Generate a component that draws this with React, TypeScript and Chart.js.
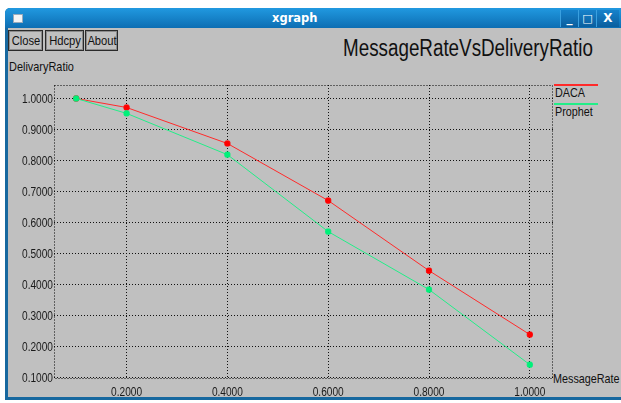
import React, { useEffect, useRef } from "react";
import { Chart, registerables } from "chart.js";

Chart.register(...registerables);

const messageRate = [0.1, 0.2, 0.4, 0.6, 0.8, 1.0];
const dacaRatio = [1.0, 0.971, 0.855, 0.671, 0.445, 0.239];
const prophetRatio = [1.0, 0.952, 0.819, 0.571, 0.384, 0.142];
const seriesNames = ["DACA", "Prophet"];
const seriesColors = ["#ff2a2a", "#22ee88"];
const pointColors = ["#ff0000", "#00f07a"];
const xTickValues = [0.2, 0.4, 0.6, 0.8, 1.0];
const yTickValues = [0.1, 0.2, 0.3, 0.4, 0.5, 0.6, 0.7, 0.8, 0.9, 1.0];
const chartTitle = "MessageRateVsDeliveryRatio";
const xAxisTitle = "MessageRate";
const yAxisTitle = "DelivaryRatio";
const windowTitle = "xgraph";
const buttonLabels = ["Close", "Hdcpy", "About"];

const FONT = "'Liberation Sans', Arial, sans-serif";
const NARROW = 0.83;

const framePlugin = {
  id: "frame",
  beforeDatasetsDraw(chart: any) {
    const { ctx, chartArea } = chart;
    ctx.save();
    ctx.strokeStyle = "#000";
    ctx.lineWidth = 1;
    ctx.setLineDash([1, 2]);
    const l = Math.round(chartArea.left) + 0.5;
    const t = Math.round(chartArea.top) + 0.5;
    const r = Math.round(chartArea.right) - 0.5;
    const b = Math.round(chartArea.bottom) - 0.5;
    ctx.strokeRect(l, t, r - l, b - t);
    ctx.restore();
  },
};

// Draws the scales' own tick labels in a condensed style (xgraph uses a narrow font)
const narrowTicksPlugin = {
  id: "narrowTicks",
  afterDraw(chart: any) {
    const { ctx, chartArea } = chart;
    ctx.save();
    ctx.fillStyle = "#1a1a1a";
    ctx.font = "12px " + FONT;
    const xs = chart.scales.x;
    ctx.textAlign = "center";
    ctx.textBaseline = "middle";
    xs.ticks.forEach((t: any) => {
      const px = xs.getPixelForValue(t.value);
      const label = t.label ?? Number(t.value).toFixed(4);
      ctx.save();
      ctx.translate(px, chartArea.bottom + 13.5);
      ctx.scale(0.845, 1);
      ctx.fillText(String(label), 0, 0);
      ctx.restore();
    });
    const ys = chart.scales.y;
    ctx.textAlign = "right";
    ys.ticks.forEach((t: any) => {
      const py = ys.getPixelForValue(t.value);
      const label = t.label ?? Number(t.value).toFixed(4);
      ctx.save();
      ctx.translate(chartArea.left - 1, py + 0.8);
      ctx.scale(0.845, 1);
      ctx.fillText(String(label), 0, 0);
      ctx.restore();
    });
    ctx.restore();
  },
};

export default function App() {
  const canvasRef = useRef<HTMLCanvasElement | null>(null);

  useEffect(() => {
    const canvas = canvasRef.current;
    if (!canvas) return;
    const seriesValues = [dacaRatio, prophetRatio];
    const chart = new Chart(canvas, {
      type: "scatter",
      data: {
        datasets: seriesValues.map((vals, i) => ({
          label: seriesNames[i],
          data: messageRate.map((x, j) => ({ x, y: vals[j] })),
          showLine: true,
          borderColor: seriesColors[i],
          backgroundColor: pointColors[i],
          pointBackgroundColor: pointColors[i],
          pointBorderColor: pointColors[i],
          pointStyle: "rectRounded",
          pointRadius: 3,
          borderWidth: 1,
          tension: 0,
          order: seriesNames.length - i,
        })),
      },
      plugins: [framePlugin, narrowTicksPlugin],
      options: {
        animation: false,
        responsive: false,
        events: [],
        layout: { padding: { left: 0, top: 85, right: 68, bottom: 0 } },
        plugins: {
          legend: { display: false },
          title: { display: false },
          tooltip: { enabled: false },
        },
        scales: {
          x: {
            type: "linear",
            min: 0.056,
            max: 1.046,
            afterBuildTicks: (scale: any) => {
              scale.ticks = xTickValues.map((v) => ({ value: v }));
            },
            afterFit: (scale: any) => {
              scale.height = 24;
            },
            grid: { color: "#111", drawTicks: false, lineWidth: 1 },
            border: { display: false, dash: [1, 2] },
            ticks: {
              display: false,
              autoSkip: false,
              callback: (v: any) => Number(v).toFixed(4),
            },
          },
          y: {
            type: "linear",
            min: 0.0958,
            max: 1.0435,
            afterBuildTicks: (scale: any) => {
              scale.ticks = yTickValues.map((v) => ({ value: v }));
            },
            afterFit: (scale: any) => {
              scale.width = 54;
            },
            grid: { color: "#111", drawTicks: false, lineWidth: 1 },
            border: { display: false, dash: [1, 2] },
            ticks: {
              display: false,
              autoSkip: false,
              callback: (v: any) => Number(v).toFixed(4),
            },
          },
        },
      },
    } as any);
    return () => chart.destroy();
  }, []);

  const abs = (s: React.CSSProperties): React.CSSProperties => ({ position: "absolute", ...s });
  const narrow = (s: React.CSSProperties): React.CSSProperties => ({
    position: "absolute",
    whiteSpace: "nowrap",
    transform: `scaleX(${NARROW})`,
    transformOrigin: "0 0",
    color: "#111",
    ...s,
  });

  return (
    <div
      style={{
        position: "fixed",
        left: 0,
        top: 0,
        width: 621,
        height: 403,
        background: "#ffffff",
        overflow: "hidden",
        fontFamily: FONT,
      }}
    >
      {/* window frame */}
      <div style={abs({ left: 5, top: 8, width: 630, height: 392, background: "#17689f", borderTopLeftRadius: 5 })} />
      <div
        style={abs({
          left: 5,
          top: 8,
          width: 630,
          height: 20,
          background: "linear-gradient(#2199e0, #0d6eb3)",
          borderTopLeftRadius: 5,
        })}
      />
      <div style={abs({ left: 13, top: 14, width: 8, height: 7, background: "#f4f4f4", border: "1px solid #9ab" })} />
      <div
        style={abs({
          left: 272,
          top: 8,
          height: 20,
          lineHeight: "20px",
          color: "#fff",
          fontFamily: "'DejaVu Sans', sans-serif",
          fontWeight: "bold",
          fontSize: 11.5,
          whiteSpace: "nowrap",
        })}
      >
        {windowTitle}
      </div>
      {["_", "\u25A1", "X"].map((g, i) => (
        <div
          key={i}
          style={abs({
            left: [560, 578, 596][i],
            top: 10,
            width: [17, 17, 22][i],
            height: 17,
            background: "linear-gradient(#1682cb, #0a5e9e)",
            borderLeft: "1px solid #3aa0e0",
            color: "#fff",
            fontFamily: "'DejaVu Sans', sans-serif",
            fontWeight: "bold",
            fontSize: i === 1 ? 11 : 12,
            lineHeight: "17px",
            textAlign: "center",
          })}
        >
          {g}
        </div>
      ))}
      {/* body */}
      <div style={abs({ left: 8, top: 28, width: 630, height: 369, background: "#c0c0c0" })} />
      {buttonLabels.map((b, i) => (
        <div
          key={b}
          style={abs({
            left: [8, 45, 85][i],
            top: 30,
            width: [35, 39, 33][i] - 2,
            height: 19,
            border: "1px solid #2a2a2a",
            boxShadow: "inset 0 0 0 1px #8c8c8c",
          })}
        >
          <div
            style={{
              position: "absolute",
              left: "50%",
              top: 0,
              fontSize: 13,
              lineHeight: "19px",
              color: "#111",
              whiteSpace: "nowrap",
              transform: `translateX(-50%) scaleX(0.86)`,
            }}
          >
            {b}
          </div>
        </div>
      ))}
      <div style={narrow({ left: 343, top: 37, fontSize: 23, lineHeight: "23px", transform: "scaleX(0.818)" })}>
        {chartTitle}
      </div>
      <div style={narrow({ left: 9, top: 60, fontSize: 13, lineHeight: "13px", transform: "scaleX(0.84)" })}>
        {yAxisTitle}
      </div>
      <div style={narrow({ left: 553, top: 372, fontSize: 13, lineHeight: "13px" })}>{xAxisTitle}</div>
      {seriesNames.map((n, i) => (
        <React.Fragment key={n}>
          <div style={abs({ left: 554, top: 84 + i * 19, width: 44, height: 2, background: seriesColors[i] })} />
          <div style={narrow({ left: 555, top: 86 + i * 19, fontSize: 13, lineHeight: "13px" })}>{n}</div>
        </React.Fragment>
      ))}
      <canvas ref={canvasRef} width={621} height={403} style={abs({ left: 0, top: 0, width: 621, height: 403 })} />
    </div>
  );
}
